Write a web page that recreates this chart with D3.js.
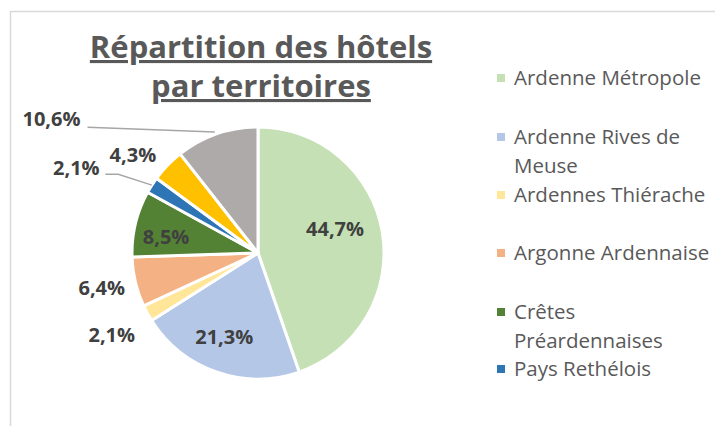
<!DOCTYPE html>
<html>
<head>
<meta charset="utf-8">
<script src="https://cdn.jsdelivr.net/npm/d3@7"></script>
<style>
  body { margin: 0; background: #fff; }
  svg text { font-family: "Open Sans", Lato, sans-serif; }
</style>
</head>
<body>
<div id="chartDiv"></div>
<script>
// data
const territoires = ["Ardenne Métropole", "Ardenne Rives de Meuse", "Ardennes Thiérache",
    "Argonne Ardennaise", "Crêtes Préardennaises", "Pays Rethélois",
    "Portes du Luxembourg", "Vallées et Plateau d'Ardenne"];
const parts = [44.7, 21.3, 2.1, 6.4, 8.5, 2.1, 4.3, 10.6];
const couleurs = ["#C5E0B4", "#B4C7E7", "#FFE699", "#F4B183", "#548235", "#2E75B6", "#FFC000", "#AEAAAA"];
// legend is cut after the 6th entry in the original
const legendLines = [["Ardenne Métropole"], ["Ardenne Rives de", "Meuse"], ["Ardennes Thiérache"],
    ["Argonne Ardennaise"], ["Crêtes", "Préardennaises"], ["Pays Rethélois"]];

const width = 715, height = 426;
const cx = 258, cy = 253, radius = 126;

let svgObj = d3.select('#chartDiv').append('svg')
    .attr('width', width)
    .attr('height', height);

// chart frame (runs off right and bottom)
svgObj.append('rect')
    .attr('x', 10.5).attr('y', 11.5)
    .attr('width', 760).attr('height', 460)
    .attr('fill', 'none')
    .attr('stroke', '#D9D9D9')
    .attr('stroke-width', 1.5);

// title
const title = svgObj.append('g').attr('fill', '#595959');
["Répartition des hôtels", "par territoires"].forEach((t, i) => {
    title.append('text')
        .attr('x', 261)
        .attr('y', 58 + i * 39)
        .attr('text-anchor', 'middle')
        .attr('font-size', 31)
        .attr('font-weight', 'bold')
        .attr('text-decoration', 'underline')
        .text(t);
});

const pie = d3.pie().sort(null).value(d => d);
const arcs = pie(parts);
const arcGen = d3.arc().innerRadius(0).outerRadius(radius);

const gPie = svgObj.append('g').attr('transform', `translate(${cx},${cy})`);

gPie.selectAll('path')
    .data(arcs)
    .enter().append('path')
    .attr('d', arcGen)
    .attr('fill', (d, i) => couleurs[i])
    .attr('stroke', '#fff')
    .attr('stroke-width', 3)
    .attr('stroke-linejoin', 'round');

// label placement: inside for big slices, outside for the small ones
const fmt = v => d3.format('.1f')(v).replace('.', ',') + '%';
const inside = d3.arc().innerRadius(radius * 0.62).outerRadius(radius * 0.62);
const outside = d3.arc().innerRadius(radius * 1.25).outerRadius(radius * 1.25);
// nudges to match where Excel put each label
const labelShift = [[0, -11], [-8, 10], [-8, 7], [-3, -1], [-16, 2], [-49, 0], [-12, 12], [-155, 15]];
const labelInside = [true, true, false, false, true, false, false, false];
const hasLeader = [false, false, false, false, false, true, false, true];

const labels = arcs.map((a, i) => {
    let p = labelInside[i] ? inside.centroid(a) : outside.centroid(a);
    return { x: p[0] + labelShift[i][0], y: p[1] + labelShift[i][1], v: parts[i], i: i, a: a };
});

// leader lines
const edge = d3.arc().innerRadius(radius).outerRadius(radius);
labels.filter(d => hasLeader[d.i]).forEach(d => {
    let e = edge.centroid(d.a);
    let pts = d.i == 7
        ? [[d.x + 36, d.y + 8], [e[0] - 2, e[1] - 2]]
        : [[d.x + 29, d.y + 6], [d.x + 42, d.y + 6], [e[0], e[1]]];
    gPie.append('polyline')
        .attr('points', pts.map(p => p.join(',')).join(' '))
        .attr('fill', 'none')
        .attr('stroke', '#A6A6A6')
        .attr('stroke-width', 1.5);
});

gPie.selectAll('text.lbl')
    .data(labels)
    .enter().append('text')
    .attr('class', 'lbl')
    .attr('x', d => d.x)
    .attr('y', d => d.y)
    .attr('dy', '0.35em')
    .attr('text-anchor', 'middle')
    .attr('font-size', 20)
    .attr('font-weight', 'bold')
    .attr('fill', '#404040')
    .text(d => fmt(d.v));

// legend
const legend = svgObj.append('g').attr('transform', 'translate(497,0)');
const legendY = [78, 137, 195, 253, 312, 369];
legendLines.forEach((lines, i) => {
    let row = legend.append('g').attr('transform', `translate(0,${legendY[i]})`);
    row.append('rect')
        .attr('x', 0).attr('y', -4)
        .attr('width', 8).attr('height', 8)
        .attr('fill', couleurs[i]);
    lines.forEach((t, j) => {
        row.append('text')
            .attr('x', 17)
            .attr('y', j * 29)
            .attr('dy', '0.35em')
            .attr('font-size', 20.5)
            .attr('fill', '#595959')
            .text(t);
    });
});
</script>
</body>
</html>
